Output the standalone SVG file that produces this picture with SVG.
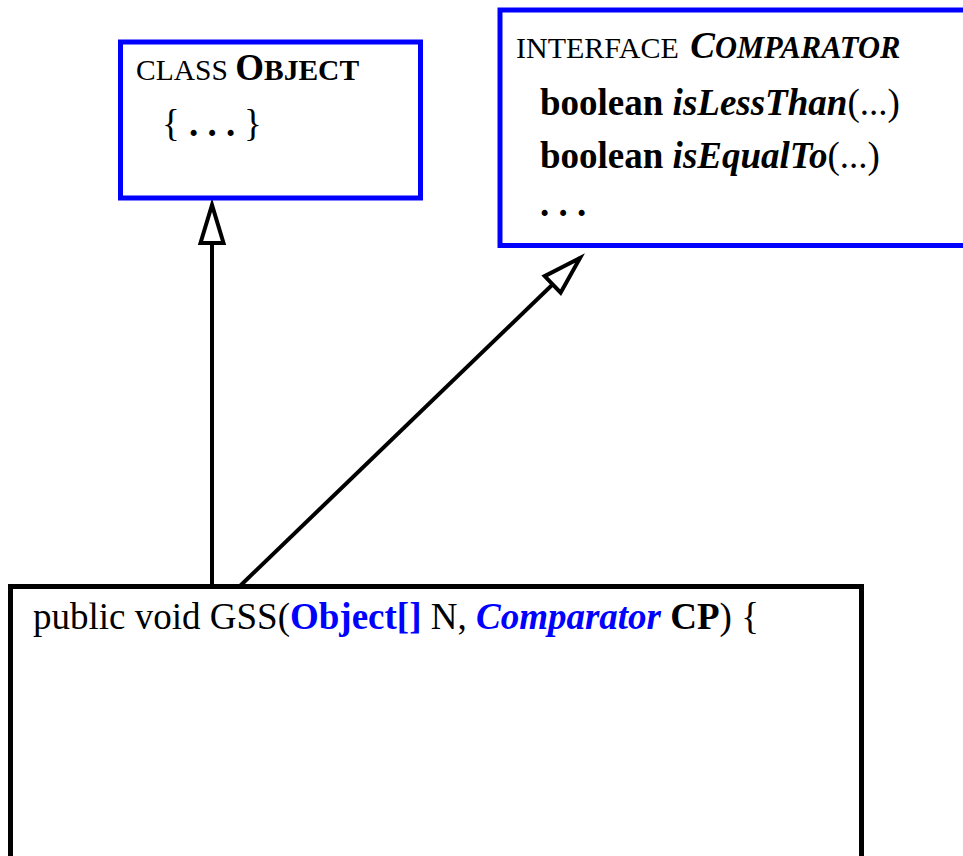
<svg xmlns="http://www.w3.org/2000/svg" width="963" height="856" viewBox="0 0 963 856">
<style>
  text { font-family: "Liberation Serif", "Times New Roman", serif; fill: #000; }
  .blue-box { fill: #fff; stroke: #0000ff; stroke-width: 5; }
  .black-box { fill: #fff; stroke: #000; stroke-width: 5; }
  .conn { fill: none; stroke: #000; stroke-width: 4; }
  .b { font-weight: bold; }
  .bi { font-weight: bold; font-style: italic; }
  .blue { fill: #0000ff; }
</style>
<defs>
  <marker id="openTri" markerUnits="userSpaceOnUse" markerWidth="60" markerHeight="60" refX="0" refY="0" orient="auto" overflow="visible">
    <path d="M0,0 L-38,-11.5 L-38,11.5 Z" fill="#fff" stroke="#000" stroke-width="4" stroke-linejoin="miter"/>
  </marker>
</defs>
<rect width="963" height="856" fill="#fff"/>

<g id="connectors">
  <line class="conn" x1="212" y1="586" x2="212" y2="205" marker-end="url(#openTri)"/>
  <line class="conn" x1="240" y1="586" x2="580" y2="258" marker-end="url(#openTri)"/>
</g>

<g id="class-object">
  <rect class="blue-box" x="120.5" y="42" width="300" height="156"/>
  <text x="136" y="80" font-size="29.5">CLASS <tspan class="b" font-size="37">O</tspan><tspan class="b">BJECT</tspan></text>
  <text x="162" y="136" font-size="37">{ <tspan class="b">. . .</tspan></text>
  <text x="244" y="136" font-size="37">}</text>
</g>

<g id="interface-comparator">
  <rect class="blue-box" x="500" y="10" width="470" height="235.5"/>
  <text x="516" y="58" font-size="30">INTERFACE <tspan class="bi" font-size="37" dx="4">C</tspan><tspan class="bi" font-size="30.5">OMPARATOR</tspan></text>
  <text x="540" y="115" font-size="37"><tspan class="b">boolean </tspan><tspan class="bi">isLessThan</tspan>(...)</text>
  <text x="540" y="168" font-size="37"><tspan class="b">boolean </tspan><tspan class="bi">isEqualTo</tspan>(...)</text>
  <text x="540" y="216" font-size="37" class="b">. . .</text>
</g>

<g id="gss-method">
  <rect class="black-box" x="10.5" y="586.5" width="851" height="272"/>
  <text x="33" y="629" font-size="37">public void GSS(<tspan class="b blue">Object[]</tspan> N, <tspan class="bi blue">Comparator</tspan> <tspan class="b">CP</tspan>) {</text>
</g>
</svg>
